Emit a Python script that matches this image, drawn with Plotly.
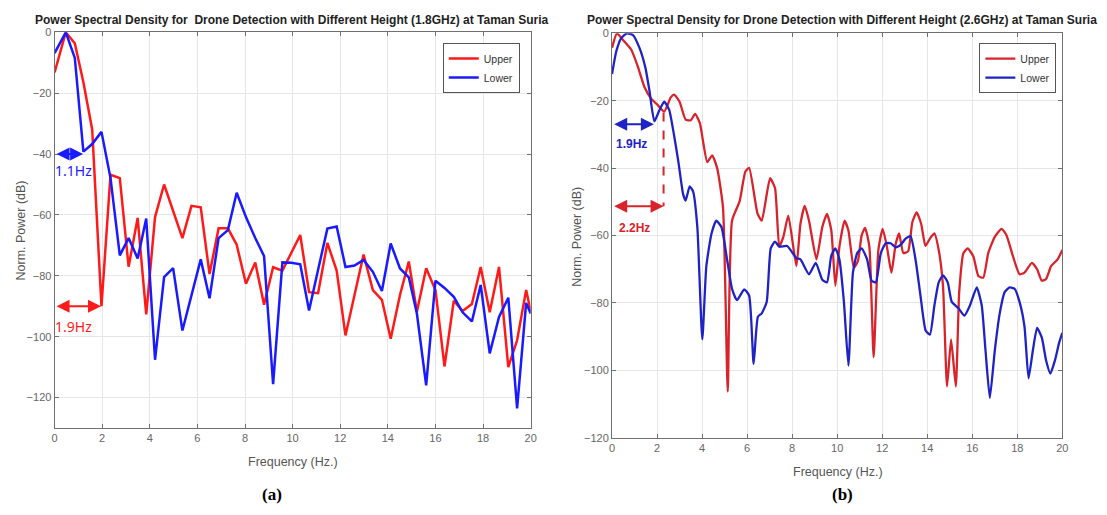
import plotly.graph_objects as go

# ---------------- data: panel (a) 1.8 GHz ----------------
a_freq = [0, 0.47, 0.85, 1.21, 1.58, 1.97, 2.35, 2.74, 3.11, 3.49, 3.85, 4.22, 4.6, 4.98,
          5.37, 5.75, 6.14, 6.51, 6.89, 7.28, 7.65, 8.04, 8.43, 8.8, 9.18, 9.57, 9.95,
          10.32, 10.69, 11.07, 11.46, 11.85, 12.22, 12.6, 12.98, 13.37, 13.75, 14.12,
          14.51, 14.88, 15.22, 15.61, 16.0, 16.38, 16.77, 17.14, 17.53, 17.9, 18.28,
          18.67, 19.06, 19.43, 19.81, 20.0]
a_upper = [-13.2, 0, -3.6, -16.4, -31.9, -90, -46.8, -47.9, -77, -61, -92.7, -60.7, -50, -59,
           -67.6, -57, -57.5, -79.4, -64.4, -64.4, -69.8, -82.6, -75.6, -89.5, -77.2, -78.3,
           -72.5, -66.6, -85.4, -85.7, -69.2, -78.3, -99.6, -86.3, -73, -84.7, -87.9, -100.7,
           -86.3, -75.3, -91.8, -77.5, -84.7, -109.8, -88.2, -91.6, -89.3, -77.1, -92, -77.1,
           -110, -101.2, -84.7, -91.6]
a_lower = [-6.8, 0, -8.4, -39.2, -36.7, -32.7, -47.9, -73.3, -67.6, -74.3, -61.2, -107.6, -80.4,
           -77.5, -98, -86.3, -74.6, -87.4, -67.6, -65, -52.7, -60.7, -67.6, -73.5, -115.6,
           -75.6, -75.7, -76.2, -91.4, -78, -64.5, -63.8, -77.1, -76.6, -74.8, -78.7, -85,
           -69.4, -77.6, -80.5, -92.4, -116, -81.6, -84, -86.9, -92, -95, -83, -105.5, -93.5,
           -87.2, -123.6, -88.9, -92.4]

# ---------------- data: panel (b) 2.6 GHz ----------------
b_upper_freq = [0, 0.22, 0.48, 0.85, 1.14, 1.44, 1.73, 2.03, 2.32, 2.61, 2.76, 3.0, 3.27, 3.5,
                3.69, 3.9, 4.23, 4.45, 4.67, 4.93, 5.14, 5.33, 5.67, 5.92, 6.09, 6.46, 6.65,
                7.02, 7.24, 7.43, 7.61, 7.83, 8.19, 8.37, 8.56, 8.75, 9.08, 9.34, 9.55, 9.74,
                9.92, 10.1, 10.33, 10.5, 10.74, 10.92, 11.09, 11.24, 11.43, 11.62, 11.83,
                12.02, 12.21, 12.41, 12.6, 12.75, 12.94, 13.15, 13.34, 13.53, 13.73, 13.92,
                14.12, 14.32, 14.51, 14.7, 14.88, 15.06, 15.27, 15.42, 15.61, 15.8, 16.05,
                16.27, 16.49, 16.71, 17.0, 17.3, 17.52, 17.81, 18.1, 18.32, 18.65, 18.88,
                19.09, 19.28, 19.5, 19.79, 20.0]
b_upper = [-4.3, 0, -1.9, -4.8, -9.7, -15.9, -19.3, -21.3, -23.2, -19, -18.2, -20.3, -25.6,
           -25.8, -23.9, -26.6, -38.2, -36.2, -40, -51.7, -106.3, -55.6, -49.8, -41.1, -39.9,
           -53.4, -55.6, -43, -45.9, -63.3, -60.4, -54.1, -69.1, -56.5, -51.2, -55.6, -67.1,
           -57.5, -53.6, -58.5, -74.9, -63.3, -55.6, -58.5, -69.6, -67.6, -59.9, -57.7, -63.3,
           -96.1, -64.3, -58, -63.3, -71, -62.5, -59.4, -65.2, -64.7, -56, -53.1, -56.5,
           -63.1, -60.9, -59.4, -64.3, -74.9, -104.8, -90.8, -104.8, -76.8, -65.2, -63.8,
           -66.2, -72, -72.5, -65.2, -60.4, -58, -59.9, -66.2, -71.5, -71, -68.1, -70, -73.4,
           -72.9, -69.1, -67.1, -64.3]
b_lower_freq = [0, 0.19, 0.41, 0.66, 0.93, 1.22, 1.48, 1.66, 1.88, 2.1, 2.32, 2.54, 2.76,
                2.95, 3.16, 3.27, 3.45, 3.6, 3.79, 4.01, 4.19, 4.42, 4.63, 4.86, 5.11, 5.33,
                5.55, 5.87, 6.09, 6.29, 6.48, 6.65, 6.87, 7.05, 7.24, 7.43, 7.78, 8.19, 8.37,
                8.75, 9.05, 9.34, 9.55, 9.74, 9.92, 10.1, 10.3, 10.5, 10.7, 10.89, 11.09,
                11.33, 11.53, 11.72, 11.94, 12.16, 12.38, 12.6, 12.82, 13.04, 13.26, 13.48,
                13.7, 13.93, 14.12, 14.32, 14.51, 14.7, 14.91, 15.09, 15.39, 15.65, 15.9,
                16.2, 16.42, 16.59, 16.78, 17.0, 17.22, 17.44, 17.66, 17.88, 18.1, 18.32,
                18.5, 18.69, 18.88, 19.09, 19.28, 19.47, 19.67, 19.86, 20.0]
b_lower = [-12.1, -5.3, -1.4, 0, -0.5, -4.3, -10.1, -16.9, -26.1, -22.9, -20.3, -22.7, -30.4,
           -38.2, -47.8, -49.6, -45.4, -46.9, -57.5, -90.8, -69.1, -59.4, -55.6, -57.5, -67.1,
           -75.8, -79.2, -76, -77.8, -98.1, -84.1, -83.1, -79.7, -63.8, -61.8, -63.3, -63.1,
           -66.7, -67.1, -71.5, -68.1, -73.1, -73.9, -66, -63.8, -67.1, -79.7, -98.6, -71,
           -65.2, -63.8, -67.1, -73.4, -73.9, -65.2, -62.3, -62.3, -63.5, -62.8, -60.9,
           -60.2, -67.1, -77.8, -88.2, -89.4, -80.7, -73.9, -71.8, -73.9, -79.7, -81.6,
           -83.8, -80.7, -75.4, -80.7, -94.2, -108.2, -94.2, -83.1, -76.8, -75.4, -75.8,
           -79.7, -87, -102.4, -94.2, -87.4, -90.3, -97.1, -101, -97.1, -91.8, -88.9]

x_ticks = list(range(0, 21, 2))
a_y_ticks = [-120, -100, -80, -60, -40, -20, 0]
b_y_ticks = [-120, -100, -80, -60, -40, -20, 0]

titles = ["Power Spectral Density for  Drone Detection with Different Height (1.8GHz) at Taman Suria",
          "Power Spectral Density for Drone Detection with Different Height (2.6GHz) at Taman Suria"]

W, H = 1107, 515
def px(x):
    return x / W
def py(y):
    return 1 - y / H

FONT = "Liberation Sans, Arial, sans-serif"
RED_A, BLUE_A = "#ff1a1a", "#1a1aff"
RED_B, BLUE_B = "#d9232b", "#1f22c4"

fig = go.Figure()
fig.add_trace(go.Scatter(x=a_freq, y=a_upper, mode="lines", name="Upper",
                         line=dict(color=RED_A, width=2.5), xaxis="x", yaxis="y", legend="legend"))
fig.add_trace(go.Scatter(x=a_freq, y=a_lower, mode="lines", name="Lower",
                         line=dict(color=BLUE_A, width=2.5), xaxis="x", yaxis="y", legend="legend"))
fig.add_trace(go.Scatter(x=b_upper_freq, y=b_upper, mode="lines", name="Upper",
                         line=dict(color=RED_B, width=2.3, shape="spline", smoothing=0.5),
                         xaxis="x2", yaxis="y2", legend="legend2"))
fig.add_trace(go.Scatter(x=b_lower_freq, y=b_lower, mode="lines", name="Lower",
                         line=dict(color=BLUE_B, width=2.3, shape="spline", smoothing=0.5),
                         xaxis="x2", yaxis="y2", legend="legend2"))

axis_common = dict(showgrid=True, gridcolor="#e6e6e6", gridwidth=1, zeroline=False,
                   showline=True, linecolor="#707070", linewidth=1, mirror="allticks",
                   ticks="inside", ticklen=4, tickcolor="#707070",
                   tickfont=dict(family=FONT, size=11, color="#666666"))

fig.update_layout(
    width=W, height=H, margin=dict(l=0, r=0, t=0, b=0),
    paper_bgcolor="white", plot_bgcolor="white",
    xaxis=dict(domain=[px(52), px(532)], range=[0, 20], tickvals=x_ticks, anchor="y", **axis_common),
    yaxis=dict(domain=[py(432), py(27)], range=[-130, 0], tickvals=a_y_ticks, anchor="x", **axis_common),
    xaxis2=dict(domain=[px(614), px(1068)], range=[0, 20], tickvals=x_ticks, anchor="y2", **axis_common),
    yaxis2=dict(domain=[py(442), py(28)], range=[-120, 0], tickvals=b_y_ticks, anchor="x2", **axis_common),
    legend=dict(x=px(521), y=py(38), xanchor="right", yanchor="top", bgcolor="white",
                bordercolor="#555555", borderwidth=1, font=dict(family=FONT, size=10.5, color="#333"),
                tracegroupgap=0, itemwidth=30),
    legend2=dict(x=px(1062), y=py(38), xanchor="right", yanchor="top", bgcolor="white",
                 bordercolor="#555555", borderwidth=1, font=dict(family=FONT, size=10.5, color="#333"),
                 tracegroupgap=0, itemwidth=30),
    showlegend=True,
)

def label(text, x, y, size, color, family=FONT, angle=0):
    return dict(text=text, x=px(x), y=py(y), xref="paper", yref="paper", showarrow=False,
                xanchor="center", yanchor="middle", textangle=angle,
                font=dict(family=family, size=size, color=color))

ann = []
ann.append(label("<b>" + titles[0] + "</b>", 291, 14, 12, "#222"))
ann.append(label("<b>" + titles[1] + "</b>", 846, 14, 12, "#222"))
ann.append(label("Frequency (Hz.)", 292, 467, 12.5, "#555"))
ann.append(label("Frequency (Hz.)", 842, 477, 12.5, "#555"))
ann.append(label("Norm. Power (dB)", 18, 230, 12.5, "#555", angle=-90))
ann.append(label("Norm. Power (dB)", 578, 236, 12.5, "#555", angle=-90))
SERIF = "Liberation Serif, Times New Roman, serif"
ann.append(label("<b>(a)</b>", 271, 500, 17, "black", family=SERIF))
ann.append(label("<b>(b)</b>", 846, 500, 17, "black", family=SERIF))

def darrow(x0, x1, y, color, xr, yr):
    return dict(x=x1, y=y, ax=x0, ay=y, xref=xr, yref=yr, axref=xr, ayref=yr, text="",
                showarrow=True, arrowside="end+start", arrowhead=2, startarrowhead=2,
                arrowsize=1.3, startarrowsize=1.3, arrowwidth=2, arrowcolor=color)

ann.append(darrow(0.02, 1.2, -40, BLUE_A, "x", "y"))
ann.append(darrow(0.02, 1.95, -90, RED_A, "x", "y"))
ann.append(dict(text="1.1Hz", x=0.78, y=-45.5, xref="x", yref="y", showarrow=False,
                xanchor="center", yanchor="middle",
                font=dict(family="Noto Sans, sans-serif", size=14, color=BLUE_A)))
ann.append(dict(text="1.9Hz", x=0.8, y=-96.5, xref="x", yref="y", showarrow=False,
                xanchor="center", yanchor="middle",
                font=dict(family="Noto Sans, sans-serif", size=14, color=RED_A)))

ann.append(darrow(0.03, 1.86, -27, BLUE_B, "x2", "y2"))
ann.append(darrow(0.03, 2.29, -51.3, RED_B, "x2", "y2"))
ann.append(dict(text="<b>1.9Hz</b>", x=0.86, y=-32.8, xref="x2", yref="y2", showarrow=False,
                xanchor="center", yanchor="middle", font=dict(family=FONT, size=12, color=BLUE_B)))
ann.append(dict(text="<b>2.2Hz</b>", x=1.02, y=-57.8, xref="x2", yref="y2", showarrow=False,
                xanchor="center", yanchor="middle", font=dict(family=FONT, size=12, color=RED_B)))

fig.update_layout(annotations=ann)
fig.add_shape(type="line", x0=2.29, x1=2.29, y0=-23.5, y1=-51.3, xref="x2", yref="y2",
              line=dict(color=RED_B, width=2, dash="dash"))

fig.write_html("out.html")
